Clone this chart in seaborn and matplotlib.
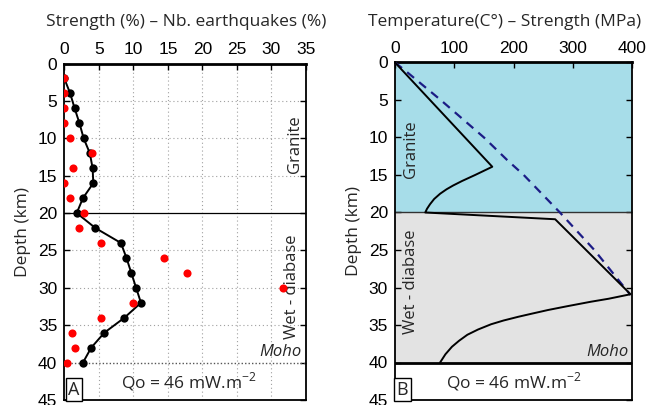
import numpy as np
import pandas as pd
import matplotlib
matplotlib.use("Agg")
import matplotlib.pyplot as plt
import seaborn as sns

# ---------------- data ----------------
depth_a = [2, 4, 6, 8, 10, 12, 14, 16, 18, 20, 22, 24, 26, 28, 30, 32, 34, 36, 38, 40]
strength_pct = [0, 0.85, 1.5, 2.2, 2.8, 3.7, 4.1, 4.2, 2.7, 1.8,
                4.5, 8.2, 9.0, 9.7, 10.4, 11.1, 8.7, 5.8, 3.9, 2.7]
quakes_pct = [0, 0, 0, 0, 0.8, 4.0, 1.2, 0, 0.8, 2.8,
              2.1, 5.3, 14.5, 17.8, 31.6, 9.9, 5.3, 1.1, 1.6, 0.4]

depth_b = [0, 13.9, 15.0, 15.8, 16.4, 16.9, 17.5, 18.2, 18.9, 19.5, 20,
           20.9, 30.9, 31.5, 31.9, 32.5, 33.0, 33.5, 33.9, 34.4, 34.9,
           35.6, 36.3, 37.1, 37.9, 38.9, 40]
strength_mpa = [0, 164, 135, 113, 98, 87, 76, 66, 59, 54, 51,
                270, 397, 360, 330, 290, 258, 230, 208, 183, 162,
                140, 122, 108, 96, 85, 76]

depth_t = [0, 1, 5, 10, 13, 15, 20, 25, 31]
temperature = [0, 16, 77, 150, 189, 217, 278, 336, 397]

x_ticks_a = [0, 5, 10, 15, 20, 25, 30, 35]
x_ticks_b = [0, 100, 200, 300, 400]
y_ticks = [0, 5, 10, 15, 20, 25, 30, 35, 40, 45]

df_s = pd.DataFrame({"depth": depth_a, "value": strength_pct})
df_q = pd.DataFrame({"depth": depth_a, "value": quakes_pct})
df_b = pd.DataFrame({"depth": depth_b, "value": strength_mpa})
df_t = pd.DataFrame({"depth": depth_t, "value": temperature})

sns.set_theme(style="white")
plt.rcParams["font.family"] = ["Liberation Sans", "DejaVu Sans"]
plt.rcParams["axes.linewidth"] = 1.3
TXT = ["Open Sans", "DejaVu Sans"]

fig = plt.figure(figsize=(6.55, 4.05), dpi=100)
H = 405.0
W = 655.0
ax1 = fig.add_axes([64.3 / W, 1 - 400 / H, (306 - 64.3) / W, (400 - 63.5) / H])
ax2 = fig.add_axes([395 / W, 1 - 400 / H, (632.3 - 395) / W, (400 - 62.5) / H])

# ---------------- panel A ----------------
ax1.set_xlim(0, 35)
ax1.set_ylim(45, 0)
for v in x_ticks_a[1:-1]:
    ax1.axvline(v, color="#a0a0a0", lw=0.8, ls=(0, (1, 2.5)), zorder=0)
for v in y_ticks[1:-1]:
    if v in (20, 40):
        continue
    ax1.axhline(v, color="#a0a0a0", lw=0.8, ls=(0, (1, 2.5)), zorder=0)
ax1.axhline(20, color="black", lw=0.9, zorder=1)
ax1.axhline(40, color="#555555", lw=1.0, ls=(0, (1, 1.5)), zorder=1)

sns.lineplot(data=df_s, x="value", y="depth", sort=False, ax=ax1, color="black",
             lw=1.4, marker="o", markersize=6, markeredgewidth=0, zorder=3,
             estimator=None)
sns.scatterplot(data=df_q, x="value", y="depth", ax=ax1, color="#ff0000", s=34,
                linewidth=0, zorder=4)

ax1.text(33.4, 10.8, "Granite", rotation=90, ha="center", va="center",
         fontsize=12, family=TXT)
ax1.text(33.0, 29.8, "Wet - diabase", rotation=90, ha="center", va="center",
         fontsize=12, family=TXT)
ax1.text(34.3, 39.6, "Moho", ha="right", va="bottom", fontsize=12,
         style="italic", family=TXT)
ax1.text(18.0, 42.6, "Qo = 46 mW.m$^{\\mathregular{-2}}$", ha="center",
         va="center", fontsize=12.5, family=TXT)
ax1.text(1.4, 43.6, "A", ha="center", va="center", fontsize=13, family=TXT,
         bbox=dict(boxstyle="square,pad=0.15", fc="white", ec="black", lw=1.0))

# ---------------- panel B ----------------
ax2.set_xlim(0, 400)
ax2.set_ylim(45, 0)
ax2.axhspan(0, 20, color="#a7dde9", lw=0, zorder=0)
ax2.axhspan(20, 40, color="#e3e3e3", lw=0, zorder=0)
ax2.axhline(20, color="#333333", lw=1.0, zorder=1)
ax2.axhline(40, color="black", lw=2.0, zorder=1)

sns.lineplot(data=df_t, x="value", y="depth", sort=False, ax=ax2,
             color="#1c1c86", lw=1.6, dashes=False, estimator=None, zorder=3)
ax2.lines[-1].set_linestyle((0, (4, 3)))
sns.lineplot(data=df_b, x="value", y="depth", sort=False, ax=ax2,
             color="black", lw=1.4, estimator=None, zorder=4)

ax2.text(27, 11.5, "Granite", rotation=90, ha="center", va="center",
         fontsize=12, family=TXT)
ax2.text(27, 29.3, "Wet - diabase", rotation=90, ha="center", va="center",
         fontsize=12, family=TXT)
ax2.text(394, 39.6, "Moho", ha="right", va="bottom", fontsize=12,
         style="italic", family=TXT)
ax2.text(200, 42.6, "Qo = 46 mW.m$^{\\mathregular{-2}}$", ha="center",
         va="center", fontsize=12.5, family=TXT)
ax2.text(12, 43.6, "B", ha="center", va="center", fontsize=13, family=TXT,
         bbox=dict(boxstyle="square,pad=0.15", fc="white", ec="black", lw=1.0))

# ---------------- axes styling ----------------
for ax, xt in ((ax1, x_ticks_a), (ax2, x_ticks_b)):
    ax.set_xticks(xt)
    ax.set_xticklabels([str(v) for v in xt])
    ax.set_yticks(y_ticks)
    ax.set_yticklabels([str(v) for v in y_ticks])
    ax.xaxis.tick_top()
    ax.tick_params(axis="both", which="both", direction="in", length=4,
                   width=1.0, labelsize=12.5, pad=5, top=True, bottom=False,
                   left=True, right=True, labelleft=True, labeltop=True,
                   labelbottom=False, colors="black")
    ax.set_xlabel("")
    ax.set_ylabel("Depth (km)", fontsize=12.5, family=TXT, labelpad=5)
    for s in ax.spines.values():
        s.set_color("black")
    ax.spines["top"].set_linewidth(2.0)
    if ax.get_legend() is not None:
        ax.get_legend().remove()

fig.text(186 / W, 1 - 22 / H, "Strength (%) \u2013 Nb. earthquakes (%)",
         ha="center", va="center", fontsize=12.5, family=TXT)
fig.text(505 / W, 1 - 22 / H, "Temperature(C\u00b0) \u2013 Strength (MPa)",
         ha="center", va="center", fontsize=12.5, family=TXT)

fig.savefig("out.png", dpi=100)
